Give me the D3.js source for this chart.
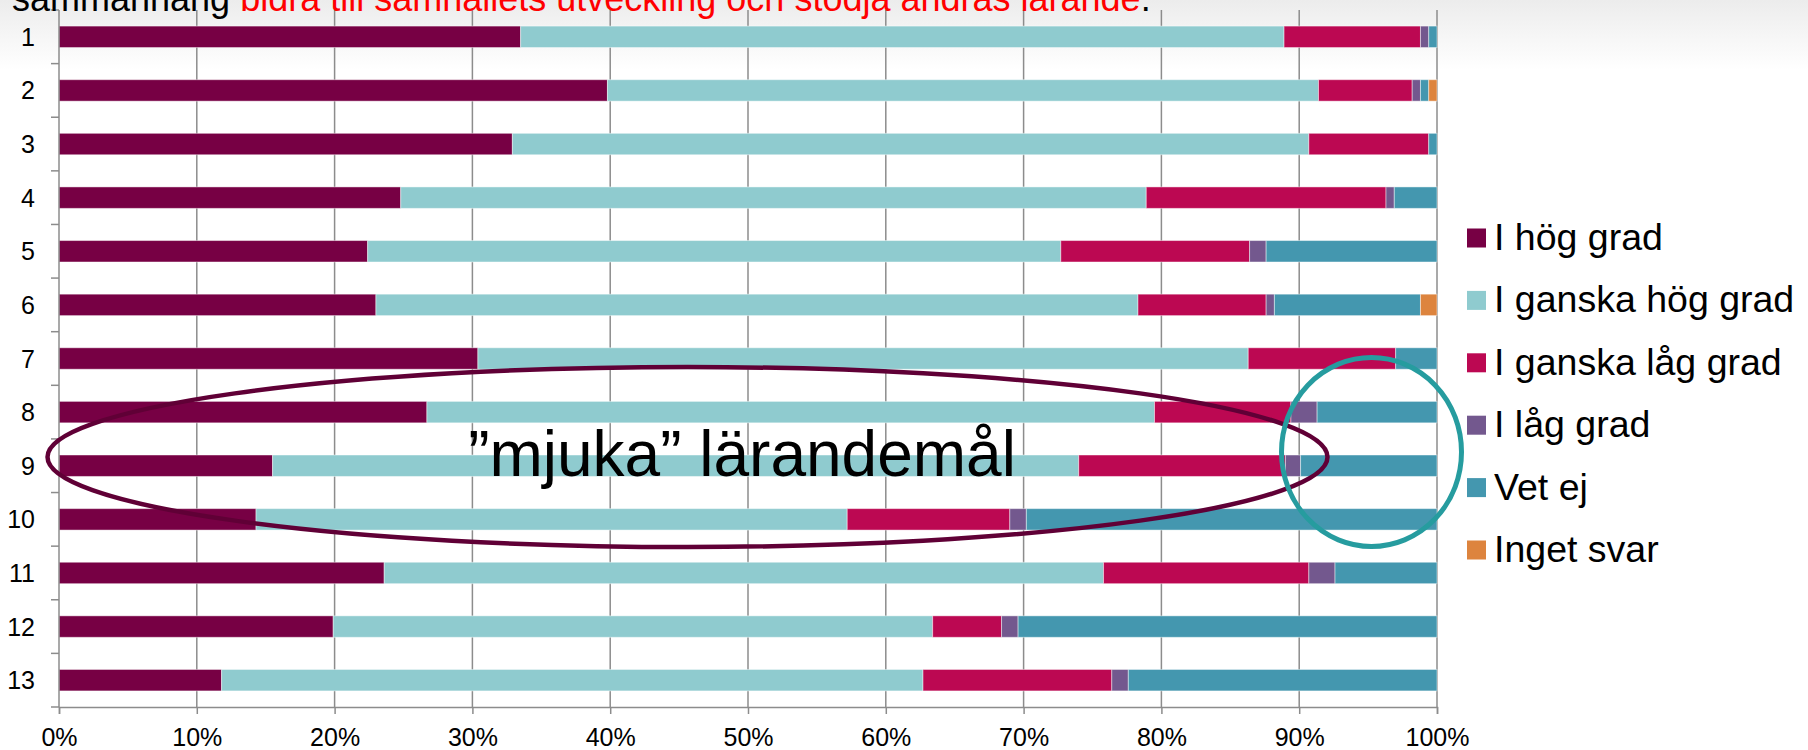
<!DOCTYPE html>
<html>
<head>
<meta charset="utf-8">
<script src="https://cdn.jsdelivr.net/npm/d3@7"></script>
<style>
  body { margin: 0; background: #fff; }
  svg { display: block; font-family: "Liberation Sans", Arial, sans-serif; }
</style>
</head>
<body>
<script>
// chart values (percent of answers per question)
var categories = ["1", "2", "3", "4", "5", "6", "7", "8", "9", "10", "11", "12", "13"];
var seriesNames = ["I hög grad", "I ganska hög grad", "I ganska låg grad", "I låg grad", "Vet ej", "Inget svar"];
var hogGrad       = [33.5, 39.8, 32.9, 24.8, 22.4, 23.0, 30.4, 26.7, 15.5, 14.3, 23.6, 19.9, 11.8];
var ganskaHogGrad = [55.4, 51.6, 57.8, 54.1, 50.3, 55.3, 55.9, 52.8, 58.5, 42.9, 52.2, 43.5, 50.9];
var ganskaLagGrad = [9.9, 6.8, 8.7, 17.4, 13.7, 9.3, 10.7, 9.9, 15.0, 11.8, 14.9, 5.0, 13.7];
var lagGrad       = [0.6, 0.6, 0, 0.6, 1.2, 0.6, 0, 1.9, 1.1, 1.2, 1.9, 1.2, 1.2];
var vetEj         = [0.6, 0.6, 0.6, 3.1, 12.4, 10.6, 3.0, 8.7, 9.9, 29.8, 7.4, 30.4, 22.4];
var ingetSvar     = [0, 0.6, 0, 0, 0, 1.2, 0, 0, 0, 0, 0, 0, 0];
var xTicks = [0, 10, 20, 30, 40, 50, 60, 70, 80, 90, 100];

var colors = ["#770044", "#8fcbcf", "#bc0852", "#73588e", "#4497af", "#dd843e"];

var width = 1808, height = 750;
var plot = {left: 59, right: 1437, top: 10, bottom: 707};

// build rows for d3.stack
var rows = categories.map(function(c, i) {
    var r = {cat: c};
    r[seriesNames[0]] = hogGrad[i];
    r[seriesNames[1]] = ganskaHogGrad[i];
    r[seriesNames[2]] = ganskaLagGrad[i];
    r[seriesNames[3]] = lagGrad[i];
    r[seriesNames[4]] = vetEj[i];
    r[seriesNames[5]] = ingetSvar[i];
    return r;
});
var stacked = d3.stack().keys(seriesNames)(rows);

var svg = d3.select("body").append("svg")
    .attr("width", width)
    .attr("height", height);

// slide background: light grey fading to white at the top
var grad = svg.append("defs").append("linearGradient")
    .attr("id", "bg").attr("x1", 0).attr("y1", 0).attr("x2", 0).attr("y2", 1);
grad.append("stop").attr("offset", "0%").attr("stop-color", "#ececec");
grad.append("stop").attr("offset", "100%").attr("stop-color", "#ffffff");
svg.append("rect").attr("width", width).attr("height", height).attr("fill", "#fff");
svg.append("rect").attr("width", width).attr("height", 70).attr("fill", "url(#bg)");

var x = d3.scaleLinear()
    .domain([0, 100])
    .range([plot.left, plot.right]);

var y = d3.scaleBand()
    .domain(categories)
    .range([plot.top, plot.bottom])
    .paddingInner(0.6)
    .paddingOuter(0.3);

var step = y.step();

// vertical gridlines
svg.append("g")
    .selectAll("line")
    .data(xTicks.slice(1))
    .enter().append("line")
    .attr("x1", function(d) { return x(d); })
    .attr("x2", function(d) { return x(d); })
    .attr("y1", plot.top)
    .attr("y2", plot.bottom)
    .attr("stroke", "#8c8c8c")
    .attr("stroke-width", 1.5);

// the bars
svg.append("g")
    .selectAll("g")
    .data(stacked)
    .enter().append("g")
    .attr("fill", function(d, i) { return colors[i]; })
    .selectAll("rect")
    .data(function(d) { return d.filter(function(v) { return v[1] - v[0] > 0; }); })
    .enter().append("rect")
    .attr("x", function(d) { return x(d[0]); })
    .attr("width", function(d) { return x(d[1]) - x(d[0]); })
    .attr("y", function(d) { return y(d.data.cat); })
    .attr("height", y.bandwidth())
    .attr("stroke", "#ffffff")
    .attr("stroke-opacity", 0.45)
    .attr("stroke-width", 1);

// y axis (category labels + ticks between categories)
var yAxis = svg.append("g");
yAxis.append("line")
    .attr("x1", plot.left).attr("x2", plot.left)
    .attr("y1", plot.top).attr("y2", plot.bottom)
    .attr("stroke", "#8c8c8c").attr("stroke-width", 1.5);
yAxis.selectAll(".tick")
    .data(d3.range(categories.length + 1))
    .enter().append("line")
    .attr("x1", plot.left - 8).attr("x2", plot.left)
    .attr("y1", function(k) { return plot.top + k * step; })
    .attr("y2", function(k) { return plot.top + k * step; })
    .attr("stroke", "#8c8c8c").attr("stroke-width", 1.5);
yAxis.selectAll("text")
    .data(categories)
    .enter().append("text")
    .attr("x", 35)
    .attr("y", function(d) { return y(d) + y.bandwidth() / 2; })
    .attr("dy", "0.36em")
    .attr("text-anchor", "end")
    .style("font-size", "25px")
    .text(function(d) { return d; });

// x axis
var xAxis = svg.append("g")
    .attr("transform", "translate(0," + plot.bottom + ")")
    .call(d3.axisBottom(x).tickValues(xTicks).tickSize(7).tickFormat(function(d) { return d + "%"; }));
xAxis.select(".domain").attr("stroke", "#8c8c8c").attr("stroke-width", 1.5);
xAxis.selectAll(".tick line").attr("stroke", "#8c8c8c").attr("stroke-width", 1.5);
xAxis.selectAll(".tick text")
    .attr("y", 21)
    .attr("dy", "0.71em")
    .attr("fill", "#000")
    .style("font-family", "'Liberation Sans', Arial, sans-serif")
    .style("font-size", "25px");

// legend
var legend = svg.append("g")
    .selectAll("g")
    .data(seriesNames)
    .enter().append("g")
    .attr("transform", function(d, i) { return "translate(1467," + (238 + i * 62.4) + ")"; });
legend.append("rect")
    .attr("x", 0).attr("y", -9.5)
    .attr("width", 19).attr("height", 19)
    .attr("fill", function(d, i) { return colors[i]; });
legend.append("text")
    .attr("x", 27)
    .attr("y", 12)
    .style("font-size", "37.5px")
    .text(function(d) { return d; });

// annotations
svg.append("ellipse")
    .attr("cx", 687.5).attr("cy", 457)
    .attr("rx", 640).attr("ry", 90)
    .attr("fill", "none")
    .attr("stroke", "#600036")
    .attr("stroke-width", 4.5);

svg.append("text")
    .attr("x", 742)
    .attr("y", 476)
    .attr("text-anchor", "middle")
    .style("font-size", "64px")
    .text("\u201dmjuka\u201d lärandemål");

svg.append("ellipse")
    .attr("cx", 1371.5).attr("cy", 452)
    .attr("rx", 90).attr("ry", 94.5)
    .attr("fill", "none")
    .attr("stroke", "#269c9f")
    .attr("stroke-width", 5);

// title line (cut at top of the slide, as in the original)
var title = svg.append("text")
    .attr("x", 12)
    .attr("y", 11)
    .style("font-size", "36px");
title.append("tspan").attr("fill", "#000").text("sammanhang ");
title.append("tspan").attr("fill", "#ff0000").text("bidra till samhällets utveckling och stödja andras lärande");
title.append("tspan").attr("fill", "#000").text(".");
</script>
</body>
</html>
